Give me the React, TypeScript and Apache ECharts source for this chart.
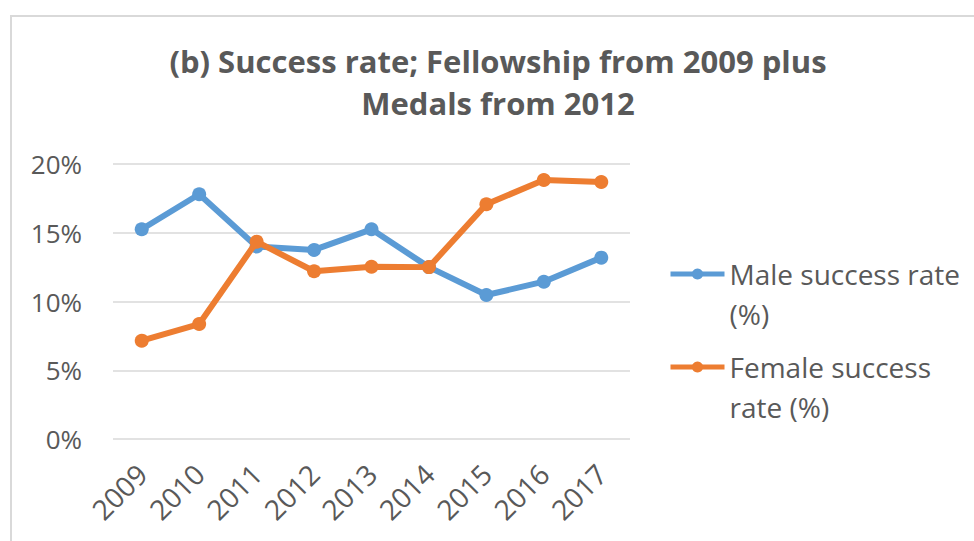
import React, { useEffect, useRef } from "react";
import * as echarts from "echarts";

const years = ["2009", "2010", "2011", "2012", "2013", "2014", "2015", "2016", "2017"];
const maleRate = [15.25, 17.8, 14.0, 13.75, 15.25, 12.5, 10.47, 11.44, 13.19];
const femaleRate = [7.15, 8.36, 14.35, 12.2, 12.53, 12.5, 17.07, 18.84, 18.69];
const maleName = "Male success rate (%)";
const femaleName = "Female success rate (%)";
const titleText = "(b) Success rate; Fellowship from 2009 plus\nMedals from 2012";

const FONT = "'Open Sans', 'Liberation Sans', sans-serif";
const GREY = "#595959";

export default function App() {
  const ref = useRef<HTMLDivElement>(null);
  useEffect(() => {
    document.body.style.margin = "0";
    const chart = echarts.init(ref.current!, null, { renderer: "svg" });
    const legendCommon = {
      orient: "vertical" as const,
      left: 668,
      padding: 0,
      itemWidth: 54,
      itemHeight: 14,
      lineStyle: { width: 5 },
      textStyle: {
        fontFamily: FONT,
        fontSize: 28,
        color: GREY,
        lineHeight: 40,
      },
      formatter: (name: string) =>
        name === maleName ? " \nMale success rate\n(%)" : " \nFemale success\nrate (%)",
    };
    chart.setOption({
      animation: false,
      backgroundColor: "#ffffff",
      title: {
        text: titleText,
        left: 498,
        top: 40,
        textAlign: "center",
        padding: 0,
        textStyle: {
          fontFamily: FONT,
          fontWeight: "bold",
          fontSize: 31,
          lineHeight: 42,
          color: GREY,
        },
      },
      graphic: [
        {
          type: "rect",
          shape: { x: 11, y: 16, width: 1000, height: 600 },
          style: { fill: "none", stroke: "#d9d9d9", lineWidth: 2 },
          silent: true,
        },
      ],
      legend: [
        { ...legendCommon, top: 214, data: [maleName] },
        { ...legendCommon, top: 307, data: [femaleName] },
      ],
      grid: { left: 113, right: 344, top: 164, bottom: 102, containLabel: false },
      xAxis: {
        type: "category",
        data: years,
        boundaryGap: true,
        axisLine: { show: false },
        axisTick: { show: false },
        axisLabel: {
          rotate: 45,
          margin: 30,
          fontFamily: FONT,
          fontSize: 28,
          color: GREY,
        },
      },
      yAxis: {
        type: "value",
        min: 0,
        max: 20,
        interval: 5,
        axisLine: { show: false },
        axisTick: { show: false },
        splitLine: { lineStyle: { color: "#d9d9d9", width: 1.5 } },
        axisLabel: {
          formatter: "{value}%",
          margin: 31,
          fontFamily: FONT,
          fontSize: 26,
          color: GREY,
        },
      },
      series: [
        {
          name: maleName,
          type: "line",
          data: maleRate,
          color: "#5B9BD5",
          symbol: "circle",
          symbolSize: 14,
          lineStyle: { width: 6 },
          z: 2,
        },
        {
          name: femaleName,
          type: "line",
          data: femaleRate,
          color: "#ED7D31",
          symbol: "circle",
          symbolSize: 14,
          lineStyle: { width: 6 },
          z: 3,
        },
      ],
    });
    return () => chart.dispose();
  }, []);
  return <div ref={ref} style={{ width: 974, height: 541 }} />;
}
